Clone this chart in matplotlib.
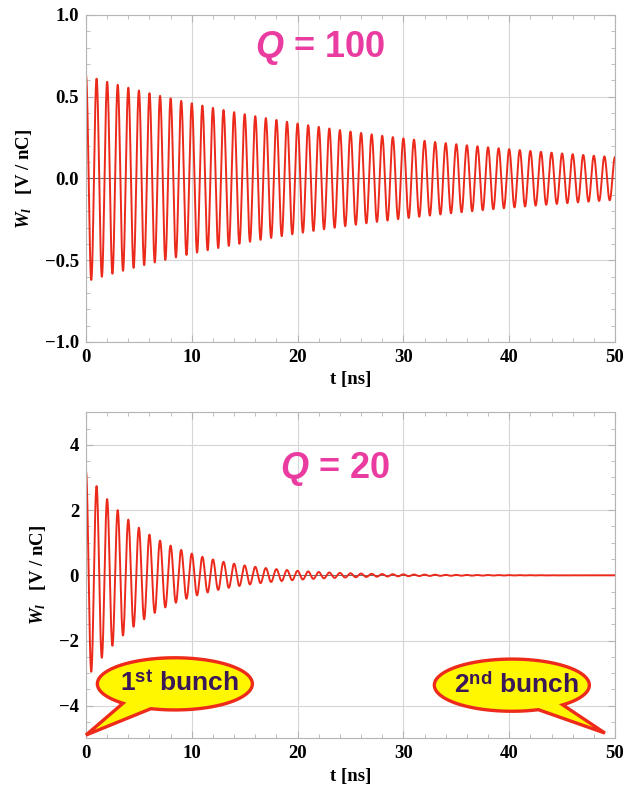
import numpy as np
import matplotlib
matplotlib.use('Agg')
import matplotlib.pyplot as plt
from matplotlib.patches import Polygon
from matplotlib.ticker import MultipleLocator

plt.rcParams['font.family'] = 'Liberation Serif'
plt.rcParams['font.weight'] = 'bold'
plt.rcParams['mathtext.fontset'] = 'custom'
plt.rcParams['mathtext.it'] = 'Liberation Serif:italic:bold'
plt.rcParams['mathtext.bf'] = 'Liberation Sans:bold'
plt.rcParams['mathtext.bfit'] = 'Liberation Sans:italic:bold'
plt.rcParams['mathtext.rm'] = 'Liberation Serif:bold'

# resonator wake: peak at t=0, ~1 GHz ringing, Q sets the decay
q_values = [100, 20]
w0_values = [0.63, 3.2]      # V/nC at t = 0
freq_ghz = 1.0
t_max = 50.0
y_limits = [(-1.0, 1.0), (-5.0, 5.0)]
y_major = [0.5, 2.0]
y_minor = [0.1, 0.5]
y_fmt = ['{:.1f}', '{:.0f}']
q_text_pos = [(22.1, 0.80), (23.5, 3.27)]

red = '#ec2a1c'
magenta = '#ea3ca0'
frame_gray = '#b4b4b4'
grid_gray = '#d6d6d6'

t = np.linspace(0, t_max, 6000)

fig = plt.figure(figsize=(6.4, 7.94), dpi=100)
ax_top = fig.add_axes([86/640, 1-342/794, 529/640, 327/794])
ax_bot = fig.add_axes([86/640, 1-738.3/794, 529/640, 326/794])

for i, ax in enumerate([ax_top, ax_bot]):
    q = q_values[i]
    w = w0_values[i] * np.exp(-np.pi * freq_ghz * t / q) * np.cos(2*np.pi*freq_ghz*t)
    ax.axhline(0, color='#555555', lw=0.6, zorder=1)
    ax.plot(t, w, color=red, lw=1.4, zorder=2)
    ax.set_xlim(0, t_max)
    ax.set_ylim(*y_limits[i])
    ax.xaxis.set_major_locator(MultipleLocator(10))
    ax.xaxis.set_minor_locator(MultipleLocator(2))
    ax.yaxis.set_major_locator(MultipleLocator(y_major[i]))
    ax.yaxis.set_minor_locator(MultipleLocator(y_minor[i]))
    ax.yaxis.set_major_formatter(plt.FuncFormatter(
        lambda v, p, f=y_fmt[i]: f.format(v).replace('-', '\u2212')))
    ax.grid(True, which='major', color=grid_gray, lw=0.8)
    ax.set_axisbelow(True)
    for s in ax.spines.values():
        s.set_color(frame_gray)
        s.set_linewidth(0.8)
    ax.tick_params(which='both', direction='in', top=True, right=True, color=frame_gray,
                   labelsize=13.5, pad=5)
    ax.tick_params(which='major', length=5)
    ax.tick_params(which='minor', length=3)
    for lab in ax.get_xticklabels() + ax.get_yticklabels():
        lab.set_fontweight('bold')
    ax.set_xlabel('t [ns]', fontsize=13.5, fontweight='bold', labelpad=4)
    ax.set_ylabel('$W_l$   [V / nC]', fontsize=13.5, fontweight='bold', labelpad=8)
    ax.text(q_text_pos[i][0], q_text_pos[i][1], r'$\mathbfit{Q}$ = ' + str(q),
            family='Liberation Sans', fontweight='bold', fontsize=26, color=magenta,
            ha='center', va='center')


def bubble(ax, cx, cy, w, h, th1, th2, tip, label):
    theta = np.radians(np.linspace(th2, th1 + 360, 300))
    xs = cx + w/2*np.cos(theta)
    ys = cy + h/2*np.sin(theta)
    verts = np.column_stack([np.append(xs, tip[0]), np.append(ys, tip[1])])
    ax.add_patch(Polygon(verts, closed=True, transform=ax.transAxes, fc='#fff700',
                         ec='#ee2a1a', lw=2.4, joinstyle='miter', clip_on=False, zorder=5))
    ax.text(cx + 0.008, cy, label, transform=ax.transAxes, family='Liberation Sans',
            fontweight='bold', fontsize=19, color='#3a1758', ha='center', va='center', zorder=6)


bubble(ax_bot, 0.168, 0.167, 0.293, 0.16, 228, 252, (0.0, 0.01), r'1$^{\mathbf{st}}$ bunch')
bubble(ax_bot, 0.805, 0.163, 0.293, 0.16, 290, 311, (0.981, 0.016), r'2$^{\mathbf{nd}}$ bunch')

fig.savefig('out.png', dpi=100)
